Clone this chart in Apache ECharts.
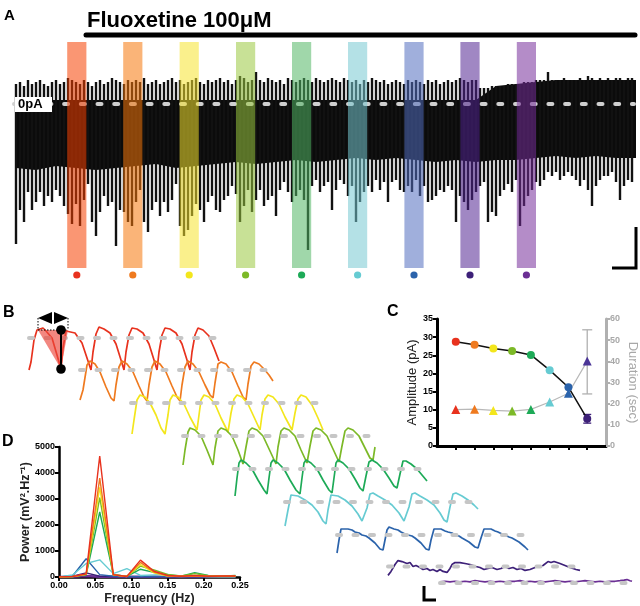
<!DOCTYPE html>
<html><head><meta charset="utf-8">
<script src="https://cdn.jsdelivr.net/npm/echarts@6.0.0/dist/echarts.min.js"></script>
<style>html,body{margin:0;padding:0;background:#fff}#c{width:640px;height:606px}</style>
</head><body><div id="c"></div>
<script>
// ---------- Panel A: recorded current trace (pA), one entry per event ----------
const traceHi = [10,11,9,12,10,11,12,10,9,11,12,10,11,13,12,11,10,12,11,9,11,12,10,11,13,12,11,10,12,11,12,11,13,10,11,12,10,11,12,13,11,12,10,11,12,13,11,10,12,11,12,13,11,12,10,12,14,13,11,12,16,12,11,13,12,11,12,10,13,12,11,12,13,12,11,13,12,11,12,13,12,11,13,12,11,12,10,12,11,13,12,11,12,10,11,12,11,10,12,11,12,11,10,12,11,12,10,11,12,11,12,13,12,11,12,12,8,8,8,9,9,9,9,10,10,10,10,11,11,11,12,12,12,16,12,12,12,13,12,12,12,13,12,14,13,12,13,12,13,12,13,13,12,13,13];
const traceLo = [-70,-53,-59,-44,-53,-49,-44,-51,-46,-49,-43,-46,-51,-55,-60,-50,-61,-48,-40,-59,-66,-54,-46,-51,-49,-71,-53,-54,-59,-61,-49,-43,-59,-64,-53,-49,-56,-49,-54,-48,-40,-61,-66,-63,-56,-50,-53,-59,-49,-46,-53,-54,-48,-46,-41,-45,-59,-51,-43,-54,-48,-43,-51,-48,-46,-56,-43,-39,-44,-49,-46,-43,-48,-73,-41,-38,-44,-41,-39,-53,-43,-38,-40,-46,-41,-59,-49,-44,-41,-44,-38,-43,-39,-49,-39,-38,-43,-44,-41,-44,-38,-46,-41,-49,-48,-46,-43,-44,-41,-43,-59,-46,-49,-53,-48,-44,-41,-39,-59,-54,-56,-46,-43,-40,-44,-38,-61,-51,-46,-43,-39,-41,-38,-34,-36,-34,-38,-36,-34,-36,-38,-41,-38,-43,-51,-41,-38,-36,-36,-34,-39,-48,-41,-38,-39];
// solid body of the trace, sampled every 5 events
const bodyTop = [2,2,2,2,2,2,2,2,2,2,2,2,2,2,2,2,2,2,2,2,2,2,2,2,9,10,11,12,12,12,12,12];
const bodyBot = [-32,-33,-31,-32,-33,-32,-31,-30,-32,-31,-30,-29,-30,-29,-28,-29,-28,-27,-28,-27,-28,-29,-28,-29,-28,-28,-27,-26,-27,-26,-27,-27];
// analysis windows (start, in event units) and their length
const windowStart = [12.8, 26.8, 40.9, 55.0, 69.0, 83.0, 97.1, 111.1, 125.2];
const windowLen = 4.8;

// ---------- Panel B: expanded traces (time s, voltage mV rel. to baseline) ----------
const bRed = [[0,-32],[2,-24],[5,-2],[8,8],[11,9],[14,10],[17,7],[23,0],[28,-17],[32,-31],[34,-10],[37,7],[39,9],[46,5],[53,-5],[58,-20],[62,-32],[64,-14],[67,4],[70,11],[75,9],[81,5],[87,-6],[92,-22],[95,-32],[97,-14],[100,3],[103,10],[108,9],[114,5],[120,-6],[125,-22],[128,-32],[130,-14],[133,3],[136,10],[141,9],[147,5],[153,-6],[158,-22],[161,-32],[163,-14],[166,3],[169,10],[174,8],[180,2],[185,-10],[190,-23]];
const bOrange = [[0,-30],[3,-20],[7,5],[10,9],[15,6],[20,-2],[26,-17],[31,-28],[34,-31],[36,-15],[39,3],[42,9],[47,6],[53,-2],[59,-16],[64,-27],[67,-31],[69,-15],[72,3],[75,9],[80,6],[86,-2],[92,-16],[97,-27],[100,-31],[102,-15],[105,3],[108,9],[113,6],[119,-2],[125,-15],[130,-25],[133,-28],[135,-13],[138,6],[141,8],[146,6],[152,-2],[158,-16],[163,-27],[166,-30],[168,-14],[171,4],[174,8],[179,6],[184,1],[189,-5],[193,-11]];
const bYellow = [[1,-31],[3,-17],[6,3],[9,8],[14,6],[19,0],[25,-12],[30,-25],[34,-31],[37,-12],[39,3],[42,8],[47,6],[53,-1],[59,-14],[66,-27],[68,-12],[70,3],[73,8],[78,6],[84,-1],[90,-15],[97,-29],[100,-10],[103,4],[106,8],[111,6],[117,-1],[123,-14],[129,-27],[131,-12],[134,4],[137,8],[142,6],[148,-1],[154,-14],[161,-27],[164,-10],[167,4],[170,8],[175,6],[181,-2],[187,-15],[192,-27]];
const bYellowGreen = [[0,-29],[2,-14],[5,4],[7,8],[12,6],[18,0],[24,-14],[30,-29],[32,-12],[35,5],[38,8],[43,6],[49,0],[55,-14],[60,-28],[63,-11],[66,5],[69,8],[74,6],[80,0],[87,-15],[93,-28],[95,-11],[98,5],[101,8],[106,6],[112,0],[118,-14],[124,-27],[127,-10],[130,5],[133,8],[138,6],[144,0],[150,-13],[156,-26],[159,-10],[162,5],[165,8],[170,6],[176,0],[182,-12],[187,-22],[190,-24],[192,-11]];
const bGreen = [[1,-27],[3,-9],[5,6],[7,9],[12,6],[18,0],[24,-11],[30,-21],[33,-25],[35,-9],[37,6],[39,9],[44,6],[50,0],[56,-11],[62,-21],[66,-25],[68,-9],[70,6],[72,9],[77,6],[83,0],[89,-11],[95,-21],[98,-24],[100,-9],[102,6],[104,9],[109,6],[115,0],[121,-10],[126,-19],[129,-22],[132,-7],[135,7],[138,9],[143,6],[149,0],[155,-9],[160,-17],[163,-19],[166,-5],[169,8],[172,8],[177,5],[183,0],[188,-6],[193,-12]];
const bCyan = [[0,-24],[3,-8],[6,7],[8,9],[13,6],[20,2],[27,-3],[33,-10],[38,-19],[41,-22],[43,-8],[46,7],[48,9],[53,6],[60,2],[67,-4],[73,-12],[77,-19],[79,-21],[82,-6],[85,8],[88,9],[93,6],[100,2],[107,-3],[114,-11],[119,-19],[121,-20],[124,-5],[127,8],[130,9],[135,6],[142,2],[149,-3],[155,-11],[159,-18],[162,-20],[165,-5],[168,8],[171,9],[177,6],[183,2],[189,-3],[193,-7]];
const bBlue = [[0,-18],[2,-5],[4,6],[6,8],[11,6],[15,5],[18,3],[22,2],[25,0],[29,-1],[32,-3],[38,-8],[43,-14],[46,-15],[48,-5],[50,5],[52,8],[57,6],[61,5],[64,3],[68,1],[71,0],[75,-1],[78,-3],[84,-8],[89,-14],[92,-15],[94,-5],[97,6],[99,8],[104,6],[108,4],[111,3],[115,2],[118,0],[122,-1],[125,-3],[132,-7],[138,-12],[141,-13],[144,-3],[147,6],[149,8],[154,6],[158,4],[161,3],[165,1],[168,0],[172,-2],[175,-3],[182,-7],[188,-12],[191,-15]];
const bPurple = [[0,-9],[3,-5],[7,2],[10,6],[12,7],[14,5],[16,6],[19,3],[22,4],[25,0],[28,1],[32,-1],[35,-3],[39,-2],[42,-4],[45,-3],[49,-5],[52,-3],[55,-5],[59,-6],[62,-2],[64,2],[67,4],[69,6],[72,4],[74,5],[77,3],[79,5],[82,2],[84,1],[88,0],[92,-1],[96,-3],[100,-2],[104,-1],[109,-3],[113,-2],[117,0],[121,-2],[125,-1],[129,-3],[133,-2],[137,-4],[142,-3],[147,-1],[150,0],[152,2],[155,1],[157,3],[160,5],[163,4],[166,5],[169,4],[172,3],[174,2],[177,1],[179,0],[182,-1],[185,-2],[188,-3],[192,-4]];
const bViolet = [[0,2],[5,3],[10,2],[15,3],[20,2],[25,3],[30,2],[35,4],[40,3],[45,2],[50,3],[55,2],[60,3],[65,2],[70,3],[75,3],[80,4],[85,2],[90,3],[95,2],[100,3],[105,2],[110,3],[115,4],[120,3],[125,2],[130,3],[135,2],[140,3],[145,4],[150,3],[155,2],[160,3],[165,2],[170,3],[175,3],[180,4],[184,5],[187,6],[190,4],[192,3]];
const bBaseline = [[0,0],[192,0]];
// annotation on the first event (s / mV)
const annT = [9, 39];      // event start / end
const annTroughT = [32];
const annV = [8, -31, 20]; // peak, trough, bracket level

// ---------- Panel C ----------
const cCats = ['', '1', '2', '3', '4', '5', '6', '7', '8', ''];
const ampMean = [28.7, 27.9, 26.9, 26.2, 25.1, 20.9, 16.2, 7.5];
const ampErr = [[8, 6.3, 8.7]];
const durMean = [17.2, 17.4, 16.8, 16.5, 17.3, 20.8, 24.9, 40.1];
const durErr = [[8, 24.6, 54.9]];

// ---------- Panel D ----------
const freqHz = [0, 0.01875, 0.0375, 0.05625, 0.075, 0.09375, 0.1125, 0.13125, 0.15, 0.16875, 0.1875, 0.20625, 0.225, 0.24375];
const powRed = [0, 20, 120, 4650, 90, 20, 650, 220, 60, 30, 60, 30, 40, 40];
const powOrange = [0, 20, 110, 3800, 80, 20, 560, 190, 50, 30, 50, 30, 30, 30];
const powYellow = [0, 15, 100, 3450, 80, 20, 480, 160, 40, 20, 40, 20, 20, 20];
const powYellowGreen = [0, 15, 90, 3050, 80, 30, 420, 270, 100, 40, 130, 50, 30, 50];
const powGreen = [0, 10, 80, 2500, 100, 20, 300, 180, 60, 30, 170, 60, 30, 60];
const powCyan = [0, 80, 520, 660, 130, 320, 60, 80, 100, 30, 30, 20, 10, 10];
const powBlue = [0, 40, 700, 90, 30, 10, 10, 20, 10, 10, 10, 5, 0, 0];
const powPurple = [0, 30, 160, 30, 10, 5, 15, 10, 5, 5, 5, 0, 0, 0];
const powViolet = [0, 10, 40, 10, 5, 5, 5, 5, 0, 0, 0, 0, 0, 0];

// ---------- styles / layout ----------
const F = 'Liberation Sans, Arial, Helvetica, sans-serif';
const pal = ['#e8321e','#ef7a1f','#f3e61c','#7cb927','#1daa57','#66cbd2','#2b63ab','#3d2078','#6b2f94'];
const barPal = ['#f54000','#f57609','#f5e32d','#9bc840','#52b664','#76c8d1','#526dbf','#522491','#762d9b'];
const rowX = [29,80,131,183,234,285,337,388,440];
const rowBase = [338,370,403,436,469,502,535,567,600];
const traceYMin = -82, traceYMax = 31;

const grids = [{left:14, top:42, width:620, height:226}];
const xAxes = [{gridIndex:0, type:'value', min:-0.5, max:154.5, show:false}];
const yAxes = [{gridIndex:0, type:'value', min:traceYMin, max:traceYMax, show:false}];
rowX.forEach((x,r)=>{
  grids.push({left:x, top:rowBase[r]-40, width:200, height:80});
  xAxes.push({gridIndex:r+1, type:'value', min:0, max:200, show:false});
  yAxes.push({gridIndex:r+1, type:'value', min:-40, max:40, show:false});
});
// C grid = 10, D grid = 11
grids.push({left:437, top:319, width:171, height:127});
grids.push({left:59, top:447, width:181, height:132});
const lab = {fontSize:9, fontWeight:'bold', color:'#000', fontFamily:F};
xAxes.push({gridIndex:10, type:'category', data:cCats, boundaryGap:false,
  axisLine:{lineStyle:{color:'#000', width:3}},
  axisTick:{show:true, interval:(i)=>i>0&&i<9, length:4, lineStyle:{color:'#000', width:2}},
  axisLabel:{show:false}, splitLine:{show:false}});
yAxes.push({gridIndex:10, type:'value', position:'left', min:0, max:35, interval:5,
  axisLine:{show:true, lineStyle:{color:'#000', width:3}},
  axisTick:{show:true, length:4, lineStyle:{color:'#000', width:2}},
  axisLabel:Object.assign({margin:4}, lab), splitLine:{show:false},
  name:'Amplitude (pA)', nameLocation:'middle', nameGap:18, nameMoveOverlap:false,
  nameTextStyle:{fontSize:13, color:'#222', fontFamily:F}});
yAxes.push({gridIndex:10, type:'value', position:'right', min:0, max:60, interval:10,
  axisLine:{show:true, lineStyle:{color:'#b0b0b0', width:3}},
  axisTick:{show:true, length:4, lineStyle:{color:'#b0b0b0', width:2}},
  axisLabel:Object.assign({margin:4}, lab, {color:'#a8a8a8'}), splitLine:{show:false},
  name:'Duration (sec)', nameLocation:'middle', nameGap:20, nameRotate:-90, nameMoveOverlap:false,
  nameTextStyle:{fontSize:13, color:'#a8a8a8', fontFamily:F}});
xAxes.push({gridIndex:11, type:'value', min:0, max:0.25, interval:0.05,
  axisLine:{lineStyle:{color:'#000', width:2.5}},
  axisTick:{show:true, length:4, lineStyle:{color:'#000', width:2}},
  axisLabel:Object.assign({margin:4, formatter:(v)=>v.toFixed(2)}, lab), splitLine:{show:false},
  name:'Frequency (Hz)', nameLocation:'middle', nameGap:15, nameMoveOverlap:false,
  nameTextStyle:{fontSize:12.5, fontWeight:'bold', color:'#222', fontFamily:F}});
yAxes.push({gridIndex:11, type:'value', min:0, max:5000, interval:1000,
  axisLine:{show:true, lineStyle:{color:'#000', width:2.5}},
  axisTick:{show:true, length:4, lineStyle:{color:'#000', width:2}},
  axisLabel:Object.assign({margin:4, formatter:(v)=>String(v)}, lab), splitLine:{show:false},
  name:'Power (mV\u00B2.Hz\u207B\u00B9)', nameLocation:'middle', nameGap:27, nameMoveOverlap:false,
  nameTextStyle:{fontSize:12.5, fontWeight:'bold', color:'#222', fontFamily:F}});

const series = [];
// A: body
series.push({type:'custom', xAxisIndex:0, yAxisIndex:0, data:[[0]], z:1, silent:true,
  renderItem:(p,api)=>{
    const pts=[];
    for(let k=0;k<bodyTop.length;k++) pts.push(api.coord([k*5, bodyTop[k]]));
    for(let k=bodyBot.length-1;k>=0;k--) pts.push(api.coord([k*5, bodyBot[k]]));
    return {type:'polygon', shape:{points:pts}, style:{fill:'#0a0a0a'}};
  }});
// A: spikes
series.push({type:'custom', xAxisIndex:0, yAxisIndex:0, z:2, silent:true,
  data:traceHi.map((h,i)=>[i,h,traceLo[i]]), encode:{x:0, y:[1,2]},
  renderItem:(p,api)=>{
    const a=api.coord([api.value(0), api.value(1)]), b=api.coord([api.value(0), api.value(2)]);
    return {type:'line', shape:{x1:a[0],y1:a[1],x2:b[0],y2:b[1]}, style:{stroke:'#111', lineWidth:2.4}};
  }});
// A: 0 pA dashed line
series.push({type:'line', xAxisIndex:0, yAxisIndex:0, z:3, silent:true, symbol:'none',
  data:[[-0.5,0],[154.5,0]], lineStyle:{color:'#cfcfcf', width:4, type:[4,12.7], cap:'round'}});
// A: colored windows + dots
series.push({type:'custom', xAxisIndex:0, yAxisIndex:0, z:4, silent:true,
  data:windowStart.map((s,i)=>[s, s+windowLen, i]), encode:{x:[0,1]},
  renderItem:(p,api)=>{
    const i=api.value(2);
    const a=api.coord([api.value(0), traceYMax]), b=api.coord([api.value(1), traceYMin]);
    return {type:'group', children:[
      {type:'rect', shape:{x:a[0], y:a[1], width:b[0]-a[0], height:b[1]-a[1]}, style:{fill:barPal[i], opacity:0.55}},
      {type:'circle', shape:{cx:(a[0]+b[0])/2, cy:b[1]+7, r:3.6}, style:{fill:pal[i]}}
    ]};
  }});
// B rows
const rows=[bRed,bOrange,bYellow,bYellowGreen,bGreen,bCyan,bBlue,bPurple,bViolet];
rows.forEach((d,r)=>{
  series.push({type:'line', xAxisIndex:r+1, yAxisIndex:r+1, z:2, silent:true, symbol:'none',
    data:d, lineStyle:{color:pal[r], width:1.7}});
  series.push({type:'line', xAxisIndex:r+1, yAxisIndex:r+1, z:3, silent:true, symbol:'none',
    data:bBaseline, lineStyle:{color:'#c6c6c6', width:4, type:[4,12.5], cap:'round'}});
});
// B annotation on first red event
series.push({type:'custom', xAxisIndex:1, yAxisIndex:1, z:5, silent:true, data:[[0]],
  renderItem:(p,api)=>{
    const c=(t,v)=>api.coord([t,v]);
    const p0=c(annT[0],annV[0]), p1=c(annT[1],annV[0]), tr=c(annTroughT[0],annV[1]), tp=c(annTroughT[0],annV[0]);
    const b0=c(annT[0],annV[2]), b1=c(annT[1],annV[2]);
    const mid=(b0[0]+b1[0])/2;
    const dot={stroke:'#000',lineWidth:1,lineDash:[1.5,1.5]};
    return {type:'group', children:[
      {type:'polygon', shape:{points:[p0,p1,tr]}, style:{fill:'rgba(235,70,60,0.65)'}},
      {type:'line', shape:{x1:b0[0],y1:b0[1],x2:p0[0],y2:p0[1]}, style:dot},
      {type:'line', shape:{x1:b1[0],y1:b1[1],x2:p1[0],y2:p1[1]}, style:dot},
      {type:'line', shape:{x1:p0[0],y1:p0[1],x2:p1[0],y2:p1[1]}, style:dot},
      {type:'polygon', shape:{points:[[b0[0],b0[1]],[mid-1,b0[1]-6],[mid-1,b0[1]+6]]}, style:{fill:'#000'}},
      {type:'polygon', shape:{points:[[b1[0],b1[1]],[mid+1,b1[1]-6],[mid+1,b1[1]+6]]}, style:{fill:'#000'}},
      {type:'line', shape:{x1:tp[0],y1:tp[1],x2:tr[0],y2:tr[1]}, style:{stroke:'#000',lineWidth:2}},
      {type:'circle', shape:{cx:tp[0],cy:tp[1],r:4.8}, style:{fill:'#000'}},
      {type:'circle', shape:{cx:tr[0],cy:tr[1],r:4.8}, style:{fill:'#000'}}
    ]};
  }});
// C series
series.push({type:'line', xAxisIndex:10, yAxisIndex:11, z:3, silent:true, symbol:'triangle', symbolSize:9,
  data:durMean.map((v,i)=>({value:[i+1,v], itemStyle:{color: i===7?'#4b3597':pal[i]}})),
  lineStyle:{color:'#b8b8b8', width:1.2}});
series.push({type:'custom', xAxisIndex:10, yAxisIndex:11, z:2, silent:true, data:durErr,
  renderItem:(p,api)=>{
    const a=api.coord([api.value(0),api.value(1)]), b=api.coord([api.value(0),api.value(2)]);
    const s={stroke:'#b0b0b0', lineWidth:1.3};
    return {type:'group', children:[
      {type:'line', shape:{x1:a[0],y1:a[1],x2:b[0],y2:b[1]}, style:s},
      {type:'line', shape:{x1:a[0]-5,y1:a[1],x2:a[0]+5,y2:a[1]}, style:s},
      {type:'line', shape:{x1:b[0]-5,y1:b[1],x2:b[0]+5,y2:b[1]}, style:s}]};
  }});
series.push({type:'line', xAxisIndex:10, yAxisIndex:10, z:4, silent:true, symbol:'circle', symbolSize:8,
  data:ampMean.map((v,i)=>({value:[i+1,v], itemStyle:{color:pal[i]}})),
  lineStyle:{color:'#111', width:1.5}});
series.push({type:'custom', xAxisIndex:10, yAxisIndex:10, z:3, silent:true, data:ampErr,
  renderItem:(p,api)=>{
    const a=api.coord([api.value(0),api.value(1)]), b=api.coord([api.value(0),api.value(2)]);
    const s={stroke:'#3d2078', lineWidth:1.3};
    return {type:'group', children:[
      {type:'line', shape:{x1:a[0],y1:a[1],x2:b[0],y2:b[1]}, style:s},
      {type:'line', shape:{x1:a[0]-4,y1:a[1],x2:a[0]+4,y2:a[1]}, style:s},
      {type:'line', shape:{x1:b[0]-4,y1:b[1],x2:b[0]+4,y2:b[1]}, style:s}]};
  }});
// D series (drawn low to high)
const pows=[powRed,powOrange,powYellow,powYellowGreen,powGreen,powCyan,powBlue,powPurple,powViolet];
[8,7,6,5,4,3,2,1,0].forEach((k,o)=>{
  series.push({type:'line', xAxisIndex:11, yAxisIndex:12, z:2+o*0.1, silent:true, symbol:'none',
    data:freqHz.map((f,i)=>[f,pows[k][i]]), lineStyle:{color:pal[k], width:k===8?2.5:1.4}});
});

const T=(text,x,y,size,extra)=>Object.assign({type:'text', x, y, z:100,
  style:{text, fontSize:size, fontWeight:'bold', fontFamily:F, fill:'#000', verticalAlign:'top'}}, extra||{});
const graphic=[
  T('A',4,8,15), T('B',3,305,16), T('C',387,304,16), T('D',2,434,16),
  T('Fluoxetine 100\u03BCM',87,10,22),
  {type:'line', z:100, shape:{x1:86,y1:35,x2:635,y2:35}, style:{stroke:'#000', lineWidth:5, lineCap:'round'}},
  {type:'rect', z:100, shape:{x:15,y:97,width:37,height:15}, style:{fill:'#fff'}},
  T('0pA',18,98,13),
  {type:'polyline', z:100, shape:{points:[[612,268],[636,268],[636,227]]}, style:{stroke:'#000', lineWidth:3, fill:null}},
  {type:'polyline', z:100, shape:{points:[[424,586],[424,600],[436,600]]}, style:{stroke:'#000', lineWidth:3, fill:null}}
];

const chart = echarts.init(document.getElementById('c'), null, {renderer:'canvas'});
chart.setOption({animation:false, backgroundColor:'#fff', grid:grids, xAxis:xAxes, yAxis:yAxes, series, graphic});
</script>
</body></html>
